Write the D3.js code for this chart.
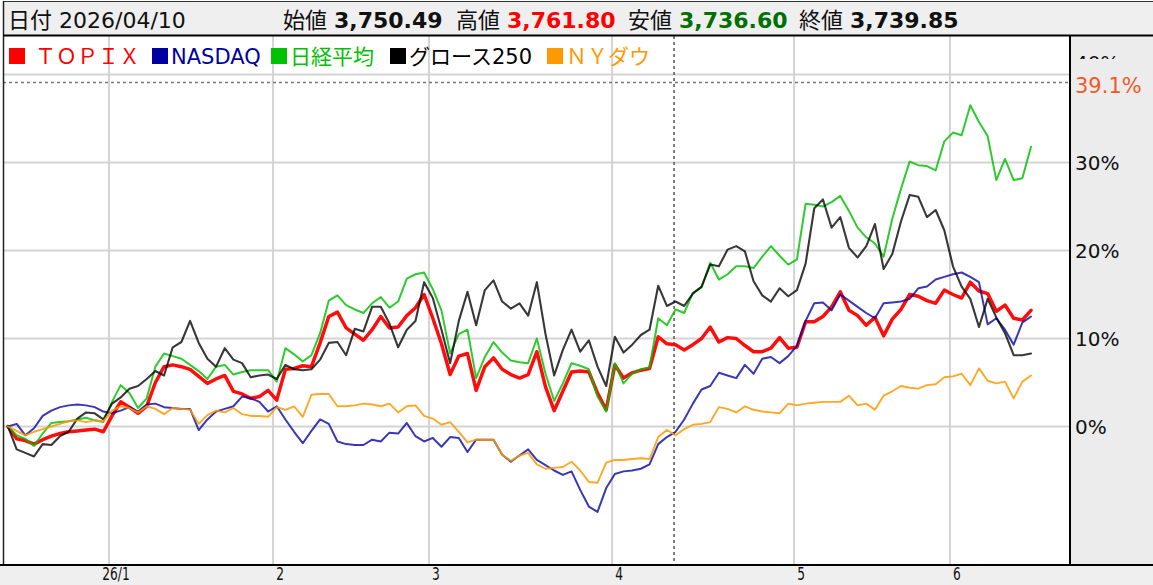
<!DOCTYPE html>
<html><head><meta charset="utf-8">
<script src="https://cdn.jsdelivr.net/npm/d3@7/dist/d3.min.js"></script>
<style>
html,body{margin:0;padding:0;background:#fff;}
svg{display:block;}
</style></head>
<body>
<svg id="chart" width="1153" height="585"></svg>
<script>
// ---------- DATA ----------
const seriesNames = ["ＴＯＰＩＸ", "NASDAQ", "日経平均", "グロース250", "ＮＹダウ"];
const seriesColors = ["#ff0000", "#0000a0", "#00c000", "#000000", "#ff9900"];

const topix = [0,-1.4,-1.6,-2.0,-1.5,-1.1,-0.8,-0.6,-0.5,-0.4,-0.3,-0.6,1.2,2.8,2.2,1.5,2.3,5.0,6.8,7.0,
6.8,6.5,5.7,4.9,5.4,5.8,4.0,3.7,3.2,3.4,4.1,3.0,6.5,6.6,6.9,6.8,9.5,12.5,13.0,11.2,
10.5,9.8,11.0,12.5,11.2,11.3,12.6,13.5,15.0,12.3,9.4,5.9,8.0,8.3,4.1,6.8,7.8,6.5,5.9,5.5,
5.9,8.5,4.5,1.8,4.0,6.2,6.3,6.2,3.8,1.9,7.0,5.5,6.1,6.4,6.6,10.2,9.4,9.3,8.7,9.3,
10.0,11.3,9.6,10.1,10.0,9.2,8.5,8.5,8.9,10.1,8.9,9.0,11.9,11.9,12.5,13.6,15.3,13.2,12.6,11.5,
12.4,10.3,12.2,13.3,15.0,14.8,14.3,14.0,15.5,15.0,14.6,16.4,15.4,15.1,13.1,13.8,12.3,12.1,13.2];

const nasdaq = [0,0.3,-1.0,-0.2,1.2,1.8,2.2,2.4,2.5,2.4,2.2,1.7,1.5,1.8,2.2,1.7,2.5,2.6,2.2,2.1,
2.0,2.0,-0.4,0.8,1.7,2.0,2.3,3.4,3.2,2.8,1.7,2.3,0.8,-0.6,-1.9,-0.5,0.8,0.3,-1.7,-2.0,
-2.1,-2.1,-1.5,-1.7,-0.7,-0.8,0.4,-1.1,-1.7,-1.3,-2.3,-1.2,-1.3,-2.9,-1.5,-1.5,-1.5,-3.2,-4.0,-3.3,
-2.6,-3.8,-4.4,-5.0,-5.5,-5.1,-7.2,-9.1,-9.7,-7.0,-5.4,-5.1,-5.0,-4.8,-4.3,-2.0,-1.2,-0.6,0.8,2.6,
4.2,4.6,6.1,5.8,5.5,7.0,6.0,7.7,7.9,7.2,8.0,9.2,12.0,14.0,14.1,13.2,15.0,14.3,13.6,12.9,
12.3,14.0,14.1,14.2,14.5,15.7,15.9,16.7,17.0,17.3,17.5,17.0,16.4,11.6,12.3,11.0,9.3,11.8,12.5];

const nikkei = [0,-1.0,-1.4,-2.2,-0.8,0.4,0.5,0.6,0.8,1.0,0.7,0.5,2.8,4.7,3.8,2.1,3.2,6.8,8.3,8.0,
7.7,7.0,6.3,5.4,6.8,7.0,5.9,6.2,6.4,6.4,6.4,5.1,8.9,8.2,7.4,8.1,10.6,14.3,14.9,13.8,
13.3,12.9,14.0,14.7,13.5,14.2,16.8,17.3,17.5,15.6,13.2,8.3,10.5,11.0,5.5,7.9,9.6,8.4,7.5,7.3,
7.2,10.0,6.0,2.9,4.9,7.2,6.9,6.5,3.4,1.7,7.2,4.9,6.0,6.5,6.7,12.3,11.5,13.3,12.9,15.2,
15.8,18.6,16.7,17.3,18.2,18.2,18.0,19.3,20.5,19.4,18.4,19.0,25.3,25.2,25.0,25.5,26.2,24.5,22.6,21.5,
20.8,19.3,23.6,27.0,30.1,29.7,29.6,29.1,32.4,33.4,33.1,36.5,34.6,33.0,28.0,30.4,28.0,28.2,31.8];

const growth250 = [0,-2.6,-3.0,-3.4,-2.0,-2.1,-1.1,-0.6,0.9,1.6,1.5,0.8,2.6,3.3,4.3,4.6,5.4,6.3,5.8,9.0,
9.6,12.0,9.5,7.7,6.8,8.9,7.6,7.2,5.6,5.8,5.9,5.4,7.0,6.5,6.4,6.5,7.6,9.5,9.6,8.1,
11.1,10.8,13.6,13.6,11.7,9.0,11.0,12.0,16.4,14.6,11.0,7.2,12.0,15.3,11.5,15.5,16.6,14.2,13.4,14.0,
12.6,16.4,10.5,5.8,8.7,11.0,8.5,9.8,6.8,4.6,10.2,8.4,9.3,10.4,11.0,16.0,13.7,14.2,13.7,15.1,
15.9,18.4,18.2,20.1,20.5,19.9,16.5,14.9,14.2,15.7,14.8,15.5,18.5,24.8,25.8,22.6,23.8,20.3,19.2,20.5,
23.0,17.9,19.6,23.3,26.3,26.1,23.8,24.6,22.3,18.2,15.9,14.5,11.3,14.5,12.4,10.6,8.1,8.1,8.3];

const nydow = [0,-0.5,-1.0,-0.6,-0.3,0.0,0.3,0.6,0.7,0.5,0.7,0.6,1.8,2.3,2.1,1.6,2.3,2.0,1.4,2.1,
2.0,1.9,0.3,1.3,1.8,1.6,2.1,1.4,1.2,1.2,1.1,2.2,1.9,2.3,1.1,3.6,3.7,3.7,2.3,2.3,
2.4,2.6,2.5,2.3,2.6,1.6,2.3,2.4,1.2,0.9,0.2,0.5,-0.6,-1.8,-1.5,-1.5,-1.5,-3.2,-3.9,-3.3,
-3.0,-4.3,-4.8,-4.7,-4.6,-4.0,-5.0,-6.3,-6.4,-4.1,-3.8,-3.8,-3.7,-3.6,-3.7,-1.2,-0.4,-1.0,-0.3,0.2,
0.3,0.5,2.2,2.0,1.6,2.3,1.9,1.7,1.6,1.5,2.6,2.4,2.6,2.7,2.8,2.8,2.8,3.5,2.4,2.6,
1.9,3.5,4.0,4.6,4.4,4.3,4.7,4.8,5.6,5.7,6.0,4.7,6.6,5.2,4.9,5.1,3.2,5.1,5.8];

const monthLabels = ["26/1", "2", "3", "4", "5", "6"];
const monthTickIdx = [11.65, 30.57, 48.56, 69.68, 90.67, 108.65];
const yTicks = [0, 10, 20, 30, 40];
const maxLine = 39.1;
const crosshairIdx = 77;

const headerDate = "2026/04/10";
const headerLabels = ["始値", "高値", "安値", "終値"];
const headerValues = ["3,750.49", "3,761.80", "3,736.60", "3,739.85"];
const headerColors = ["#111111", "#ff0000", "#007000", "#111111"];

// ---------- LAYOUT ----------
const W = 1153, H = 585;
const plot = {left: 3, right: 1070, top: 36, bottom: 565};
const svg = d3.select("#chart");

const allSeries = [topix, nasdaq, nikkei, growth250, nydow];
const x = d3.scaleLinear().domain([0, topix.length - 1]).range([8, 1031]);
const y = d3.scaleLinear().domain([0, 40]).range([426.5, 74.5]);

// backgrounds
svg.append("rect").attr("x",0).attr("y",0).attr("width",W).attr("height",H).attr("fill","#fff");
svg.append("rect").attr("x",3).attr("y",1).attr("width",W-3).attr("height",35).attr("fill","#efefef");
svg.append("rect").attr("x",plot.right).attr("y",plot.top).attr("width",W-plot.right).attr("height",plot.bottom-plot.top).attr("fill","#ececec");
svg.append("rect").attr("x",0).attr("y",plot.bottom).attr("width",W).attr("height",H-plot.bottom).attr("fill","#efefef");

const clipId = "plotclip";
svg.append("clipPath").attr("id",clipId).append("rect")
  .attr("x",plot.left).attr("y",plot.top).attr("width",plot.right-plot.left).attr("height",plot.bottom-plot.top);

// grid
const grid = svg.append("g");
grid.selectAll("line.h").data(yTicks).enter().append("line")
  .attr("x1",plot.left).attr("x2",plot.right)
  .attr("y1",d=>y(d)).attr("y2",d=>y(d))
  .attr("stroke","#d4d4d4").attr("stroke-width",2);
grid.selectAll("line.v").data(monthTickIdx).enter().append("line")
  .attr("x1",d=>x(d)).attr("x2",d=>x(d))
  .attr("y1",plot.top).attr("y2",plot.bottom)
  .attr("stroke","#d4d4d4").attr("stroke-width",2);

// max dashed line
svg.append("line").attr("x1",plot.left).attr("x2",plot.right)
  .attr("y1",y(maxLine)).attr("y2",y(maxLine))
  .attr("stroke","#777").attr("stroke-width",1.5).attr("stroke-dasharray","3,3");

// crosshair
svg.append("line").attr("x1",x(crosshairIdx)-1.5).attr("x2",x(crosshairIdx)-1.5)
  .attr("y1",plot.top).attr("y2",plot.bottom)
  .attr("stroke","#555").attr("stroke-width",1.5).attr("stroke-dasharray","3,3");

// lines
const line = d3.line().x((d,i)=>x(i)).y(d=>y(d));
const widths = [3.5, 2, 2, 2.1, 1.9];
const opac = [0.95, 0.78, 0.82, 0.78, 0.85];
const lg = svg.append("g").attr("clip-path",`url(#${clipId})`);
allSeries.forEach((s,k)=>{
  lg.append("path").datum(s).attr("d",line).attr("fill","none")
    .attr("stroke",seriesColors[k]).attr("stroke-width",widths[k])
    .attr("stroke-opacity",opac[k])
    .attr("stroke-linejoin","round").attr("stroke-linecap","round");
});

// frame lines
svg.append("line").attr("x1",3).attr("x2",W).attr("y1",1.5).attr("y2",1.5).attr("stroke","#333").attr("stroke-width",1);
svg.append("line").attr("x1",3.5).attr("x2",3.5).attr("y1",1).attr("y2",plot.bottom).attr("stroke","#222").attr("stroke-width",1.5);
svg.append("line").attr("x1",3).attr("x2",W).attr("y1",35.5).attr("y2",35.5).attr("stroke","#000").attr("stroke-width",2);
svg.append("line").attr("x1",plot.right).attr("x2",plot.right).attr("y1",plot.top).attr("y2",plot.bottom).attr("stroke","#000").attr("stroke-width",2);
svg.append("line").attr("x1",0).attr("x2",W).attr("y1",plot.bottom).attr("y2",plot.bottom).attr("stroke","#000").attr("stroke-width",2);

// right axis labels
const axisFont = "'DejaVu Sans','Noto Sans CJK JP',sans-serif";
const axisG = svg.append("g");
axisG.selectAll("text.ytick").data(yTicks).enter().append("text")
  .attr("x",1075)
  .attr("y",d=> d === 40 ? y(d) - 12 : y(d))
  .attr("dy","0.36em")
  .attr("font-family",axisFont).attr("font-size",20).attr("fill","#111")
  .text(d=>d+"%");
// current max marker label (covers most of the top tick label like the original)
svg.append("rect").attr("x",1072).attr("y",59).attr("width",W-1072).attr("height",40).attr("fill","#ececec");
svg.append("text").attr("x",1075).attr("y",y(maxLine)+3).attr("dy","0.36em")
  .attr("font-family",axisFont).attr("font-size",21).attr("fill","#f05a28")
  .text(maxLine.toFixed(1)+"%");

// bottom axis labels
svg.selectAll("text.xtick").data(monthTickIdx).enter().append("text")
  .attr("transform",d=>`translate(${x(d)+7},580) scale(0.68,1)`)
  .attr("text-anchor","middle")
  .attr("font-family","'DejaVu Sans',sans-serif").attr("font-size",18).attr("fill","#111")
  .text((d,i)=>monthLabels[i]);

// header
const hFont = "'DejaVu Sans','Noto Sans CJK JP',sans-serif";
svg.append("text").attr("x",8).attr("y",28).attr("font-family",hFont).attr("font-size",22).attr("fill","#111")
  .text("日付 " + headerDate);
const headerX = [283, 456, 628, 799];
headerLabels.forEach((lab,i)=>{
  const t = svg.append("text").attr("x",headerX[i]).attr("y",28).attr("font-family",hFont).attr("font-size",22).attr("fill","#111");
  t.append("tspan").text(lab+" ");
  t.append("tspan").attr("font-weight","bold").attr("fill",headerColors[i]).text(headerValues[i]);
});

// legend
const legFont = "'DejaVu Sans','Noto Sans CJK JP',sans-serif";
const legendX = [9, 152, 271, 390, 547];
const legendTextDx = [26, 19, 19, 19, 19];
seriesNames.forEach((n,k)=>{
  svg.append("rect").attr("x",legendX[k]).attr("y",48).attr("width",16).attr("height",16).attr("fill",seriesColors[k]);
  svg.append("text").attr("x",legendX[k]+legendTextDx[k]).attr("y",64).attr("font-family",legFont).attr("font-size",21)
    .attr("fill",seriesColors[k]).text(n);
});
</script>
</body></html>
